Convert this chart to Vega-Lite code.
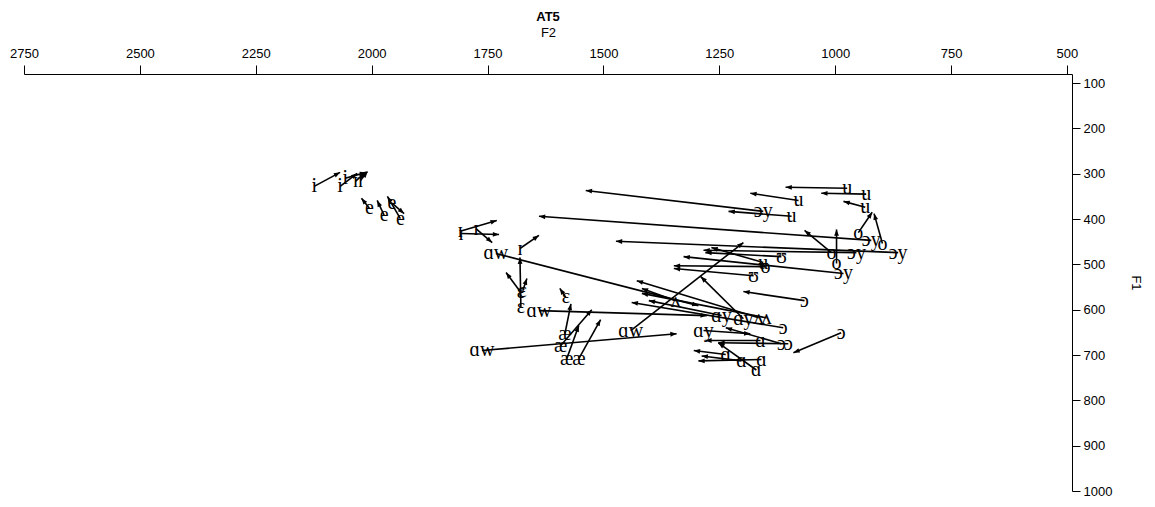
{
  "$schema": "https://vega.github.io/schema/vega-lite/v6.json",
  "width": 1048,
  "height": 417,
  "autosize": {"type": "none"},
  "padding": {"left": 24, "top": 74, "right": 83, "bottom": 16},
  "title": {"text": "AT5", "font": "Liberation Sans", "fontSize": 13, "fontWeight": "bold", "color": "black", "anchor": "middle", "offset": 2},
  "config": {"view": {"stroke": null}},
  "data": {"values": [
    {"v":"i","x1":2124,"y1":328,"x2":2068,"y2":297},
    {"v":"i","x1":2068,"y1":328,"x2":2031,"y2":299},
    {"v":"i","x1":2057,"y1":310,"x2":2012,"y2":297},
    {"v":"ɪ","x1":2035,"y1":317,"x2":2014,"y2":297},
    {"v":"ɪ","x1":2024,"y1":315,"x2":2009,"y2":295},
    {"v":"e","x1":2005,"y1":376,"x2":2022,"y2":354},
    {"v":"e","x1":1973,"y1":392,"x2":1988,"y2":359},
    {"v":"e","x1":1938,"y1":399,"x2":1966,"y2":350},
    {"v":"e","x1":1956,"y1":365,"x2":1930,"y2":388},
    {"v":"ɪ","x1":1809,"y1":427,"x2":1730,"y2":403},
    {"v":"ɪ","x1":1807,"y1":432,"x2":1725,"y2":434},
    {"v":"ɪ","x1":1775,"y1":421,"x2":1740,"y2":452},
    {"v":"ɪ","x1":1680,"y1":465,"x2":1639,"y2":436},
    {"v":"ɑw","x1":1732,"y1":476,"x2":1295,"y2":591},
    {"v":"ɛ","x1":1678,"y1":595,"x2":1680,"y2":485},
    {"v":"ɛ","x1":1678,"y1":562,"x2":1710,"y2":518},
    {"v":"ɛ","x1":1674,"y1":558,"x2":1665,"y2":531},
    {"v":"ɛ","x1":1581,"y1":573,"x2":1594,"y2":553},
    {"v":"ɑw","x1":1639,"y1":602,"x2":1277,"y2":613},
    {"v":"æ","x1":1583,"y1":653,"x2":1570,"y2":587},
    {"v":"æ","x1":1592,"y1":679,"x2":1525,"y2":600},
    {"v":"æ","x1":1579,"y1":708,"x2":1553,"y2":635},
    {"v":"æ","x1":1553,"y1":708,"x2":1506,"y2":622},
    {"v":"ɑw","x1":1762,"y1":690,"x2":1342,"y2":653},
    {"v":"ɑw","x1":1441,"y1":646,"x2":1198,"y2":452},
    {"v":"u","x1":974,"y1":332,"x2":1107,"y2":330},
    {"v":"u","x1":933,"y1":345,"x2":1030,"y2":343},
    {"v":"u","x1":1079,"y1":359,"x2":1183,"y2":343},
    {"v":"u","x1":935,"y1":374,"x2":982,"y2":361},
    {"v":"u","x1":1094,"y1":394,"x2":1230,"y2":383},
    {"v":"ɔy","x1":1155,"y1":383,"x2":1538,"y2":337},
    {"v":"o","x1":950,"y1":430,"x2":920,"y2":385},
    {"v":"ɔy","x1":922,"y1":447,"x2":1639,"y2":394},
    {"v":"o","x1":898,"y1":454,"x2":916,"y2":388},
    {"v":"ɔy","x1":864,"y1":474,"x2":1473,"y2":449},
    {"v":"ɔy","x1":954,"y1":474,"x2":1284,"y2":469},
    {"v":"o","x1":1008,"y1":474,"x2":1066,"y2":425},
    {"v":"o","x1":997,"y1":498,"x2":997,"y2":423},
    {"v":"ʊ","x1":1116,"y1":483,"x2":1280,"y2":474},
    {"v":"ʉ","x1":1155,"y1":496,"x2":1267,"y2":463},
    {"v":"o","x1":1150,"y1":505,"x2":1348,"y2":503},
    {"v":"ʊ","x1":1176,"y1":525,"x2":1348,"y2":509},
    {"v":"ɔy","x1":982,"y1":520,"x2":1327,"y2":483},
    {"v":"ʌ","x1":1344,"y1":580,"x2":1417,"y2":553},
    {"v":"ʌ","x1":1165,"y1":618,"x2":1428,"y2":536},
    {"v":"ʌ","x1":1148,"y1":618,"x2":1417,"y2":564},
    {"v":"ɔ","x1":1066,"y1":580,"x2":1198,"y2":560},
    {"v":"ɔ","x1":1112,"y1":640,"x2":1439,"y2":584},
    {"v":"ɑy","x1":1245,"y1":613,"x2":1402,"y2":580},
    {"v":"ɑy","x1":1198,"y1":620,"x2":1290,"y2":527},
    {"v":"ɑy","x1":1284,"y1":646,"x2":1183,"y2":653},
    {"v":"ɔ","x1":1116,"y1":675,"x2":1236,"y2":640},
    {"v":"ɔ","x1":1101,"y1":675,"x2":1252,"y2":673},
    {"v":"ɑ","x1":1161,"y1":668,"x2":1280,"y2":668},
    {"v":"ɑ","x1":1236,"y1":699,"x2":1305,"y2":690},
    {"v":"ɑ","x1":1202,"y1":713,"x2":1288,"y2":702},
    {"v":"ɑ","x1":1159,"y1":710,"x2":1295,"y2":713},
    {"v":"ɑ","x1":1170,"y1":733,"x2":1252,"y2":673},
    {"v":"ɔ","x1":987,"y1":651,"x2":1090,"y2":695}
  ]},
  "layer": [
    {
      "mark": {"type": "rule", "color": "black", "strokeWidth": 1.6},
      "encoding": {
        "x": {"field": "x1", "type": "quantitative", "title": "F2", "scale": {"domain": [489, 2750], "reverse": true, "nice": false, "zero": false},
              "axis": {"orient": "top", "values": [500, 750, 1000, 1250, 1500, 1750, 2000, 2250, 2500, 2750], "grid": false,
                       "tickSize": 9, "tickColor": "black", "domainColor": "black", "labelColor": "black", "labelFont": "Liberation Sans", "labelFontSize": 13,
                       "labelPadding": 5, "labelFlush": false, "titleFont": "Liberation Sans", "titleFontSize": 13, "titleFontWeight": "normal", "titleColor": "black", "titlePadding": 8, "format": "d"}},
        "y": {"field": "y1", "type": "quantitative", "title": "F1", "scale": {"domain": [80, 1000], "reverse": true, "nice": false, "zero": false},
              "axis": {"orient": "right", "values": [100, 200, 300, 400, 500, 600, 700, 800, 900, 1000], "grid": false,
                       "tickSize": 8, "tickColor": "black", "domainColor": "black", "labelColor": "black", "labelFont": "Liberation Sans", "labelFontSize": 13,
                       "labelPadding": 3, "labelFlush": false, "titleFont": "Liberation Sans", "titleFontSize": 13, "titleFontWeight": "normal", "titleColor": "black", "titlePadding": 17, "titleAngle": 90, "format": "d"}},
        "x2": {"field": "x2"},
        "y2": {"field": "y2"}
      }
    },
    {
      "transform": [{"calculate": "atan2(-(datum.x2-datum.x1)*0.4635, -(datum.y2-datum.y1)*0.4533)*180/PI", "as": "ang"}],
      "mark": {"type": "point", "shape": "M0,0L-0.42,1.1L0.42,1.1Z", "filled": true, "color": "black", "opacity": 1, "size": 130},
      "encoding": {
        "x": {"field": "x2", "type": "quantitative", "title": "F2"},
        "y": {"field": "y2", "type": "quantitative", "title": "F1"},
        "angle": {"field": "ang", "type": "quantitative", "scale": null}
      }
    },
    {
      "mark": {"type": "text", "font": "Liberation Serif", "fontSize": 20, "color": "black", "align": "center", "baseline": "middle"},
      "encoding": {
        "x": {"field": "x1", "type": "quantitative", "title": "F2"},
        "y": {"field": "y1", "type": "quantitative", "title": "F1"},
        "text": {"field": "v"}
      }
    }
  ]
}
